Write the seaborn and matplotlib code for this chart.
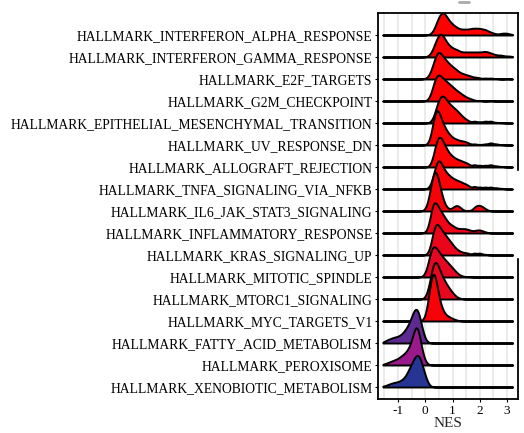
import numpy as np
import matplotlib
matplotlib.use("Agg")
import matplotlib.pyplot as plt
import seaborn as sns
from matplotlib.colors import LinearSegmentedColormap, Normalize
from matplotlib.patches import Rectangle
from matplotlib.lines import Line2D

# gene sets, top to bottom
pathways = [
    "HALLMARK_INTERFERON_ALPHA_RESPONSE",
    "HALLMARK_INTERFERON_GAMMA_RESPONSE",
    "HALLMARK_E2F_TARGETS",
    "HALLMARK_G2M_CHECKPOINT",
    "HALLMARK_EPITHELIAL_MESENCHYMAL_TRANSITION",
    "HALLMARK_UV_RESPONSE_DN",
    "HALLMARK_ALLOGRAFT_REJECTION",
    "HALLMARK_TNFA_SIGNALING_VIA_NFKB",
    "HALLMARK_IL6_JAK_STAT3_SIGNALING",
    "HALLMARK_INFLAMMATORY_RESPONSE",
    "HALLMARK_KRAS_SIGNALING_UP",
    "HALLMARK_MITOTIC_SPINDLE",
    "HALLMARK_MTORC1_SIGNALING",
    "HALLMARK_MYC_TARGETS_V1",
    "HALLMARK_FATTY_ACID_METABOLISM",
    "HALLMARK_PEROXISOME",
    "HALLMARK_XENOBIOTIC_METABOLISM",
]

# adjusted p-values (fill colour), estimated
padj = [0.0001, 0.0002, 0.0002, 0.0003, 0.0004, 0.0006, 0.0006, 0.0008,
        0.0015, 0.003, 0.004, 0.005, 0.0045, 0.0012, 0.03, 0.02, 0.04]

# core gene values (NES axis) and how many genes sit at each value
x_alpha = [0.1, 0.2, 0.3, 0.4, 0.5, 0.6, 0.7, 0.8, 0.9, 1.0, 1.1, 1.2, 1.3, 1.4, 1.5, 1.6,
           1.7, 1.8, 1.9, 2.0, 2.1, 2.2, 2.3, 2.4, 2.5, 2.6, 2.7, 2.8, 2.9, 3.0, 3.1, 3.2]
n_alpha = [0.3, 1, 4, 12, 19, 24, 23, 18, 14, 11, 9, 7, 6, 6, 6, 6,
           7, 7, 7, 7, 6, 6, 4, 3, 2, 1, 1, 2, 2, 2, 1, 0.5]

x_gamma = [0.1, 0.2, 0.3, 0.4, 0.5, 0.6, 0.7, 0.8, 0.9, 1.0, 1.1, 1.2, 1.3, 1.4, 1.5, 1.6,
           1.7, 1.8, 1.9, 2.0, 2.1, 2.2, 2.3, 2.4, 2.5, 2.6, 2.7, 2.8, 2.9, 3.0, 3.1, 3.2]
n_gamma = [1, 3, 9, 17, 23, 24, 19, 14, 11, 9, 8, 7, 5, 5, 5, 5,
           5, 5, 5, 5, 5, 6, 5, 4, 3, 2, 2, 2, 1, 1, 1, 0.5]

x_e2f = [0.0, 0.1, 0.2, 0.3, 0.4, 0.5, 0.6, 0.7, 0.8, 0.9, 1.0, 1.1, 1.2, 1.3, 1.4, 1.5,
         1.6, 1.7, 1.8, 1.9, 2.0, 2.2, 2.4, 2.6, 3.0]
n_e2f = [0.5, 2, 8, 18, 29, 33, 28, 24, 20, 17, 14, 12, 9, 7, 6, 5,
         4, 3, 2, 2, 1.5, 2, 2, 1, 0.5]

x_g2m = [0.1, 0.2, 0.3, 0.4, 0.5, 0.6, 0.7, 0.8, 0.9, 1.0, 1.1, 1.2, 1.3, 1.4, 1.5, 1.6,
         1.7, 1.8, 2.0, 2.4]
n_g2m = [1, 6, 17, 27, 28, 25, 22, 20, 17, 15, 12, 10, 8, 6, 4, 3,
         2, 1, 1, 0.6]

x_emt = [0.2, 0.3, 0.4, 0.5, 0.6, 0.7, 0.8, 0.9, 1.0, 1.1, 1.2, 1.3, 1.4, 1.5, 1.6,
         1.8, 2.0, 2.2, 2.4, 2.6, 2.8]
n_emt = [1, 4, 13, 21, 24, 23, 19, 16, 14, 12, 10, 7, 5, 3, 2,
         3, 2, 3, 3, 1, 0.6]

x_uv = [0.1, 0.2, 0.3, 0.4, 0.5, 0.6, 0.7, 0.8, 0.9, 1.0, 1.1, 1.2, 1.3, 1.4, 1.5, 1.6,
        1.8, 2.0, 2.2, 2.4, 2.6, 2.8]
n_uv = [1, 7, 24, 37, 33, 24, 18, 13, 10, 7, 6, 5, 4, 4, 3, 2,
        2, 1, 2, 4, 2, 0.6]

x_allo = [0.2, 0.3, 0.4, 0.5, 0.6, 0.7, 0.8, 0.9, 1.0, 1.1, 1.2, 1.3, 1.4, 1.5, 1.6,
          1.8, 2.0, 2.2, 2.4, 2.6, 2.8]
n_allo = [2, 10, 24, 30, 27, 21, 16, 12, 10, 8, 7, 6, 5, 4, 3,
          4, 3, 3, 4, 2, 1]

x_tnfa = [0.1, 0.2, 0.3, 0.4, 0.5, 0.6, 0.7, 0.8, 0.9, 1.0, 1.1, 1.2, 1.3, 1.4, 1.5, 1.6,
          1.8, 2.0, 2.2, 2.4, 2.6, 2.8]
n_tnfa = [0.5, 3, 11, 22, 26, 21, 16, 13, 11, 9, 8, 7, 6, 5, 4, 3,
          4, 3, 3, 3, 2, 1]

x_il6 = [0.0, 0.1, 0.2, 0.3, 0.4, 0.5, 0.6, 0.7, 0.8, 0.9, 1.0, 1.1, 1.2, 1.3, 1.4,
         1.6, 1.8, 1.9, 2.0, 2.1, 2.2, 2.3]
n_il6 = [1, 5, 16, 27, 28, 20, 11, 5, 2, 1, 2, 4, 4, 2, 0.5,
         0.5, 3, 4, 4, 3, 1.5, 0.5]

x_infl = [0.0, 0.1, 0.2, 0.3, 0.4, 0.5, 0.6, 0.7, 0.8, 0.9, 1.0, 1.1, 1.2, 1.3, 1.4, 1.5,
          1.6, 1.7, 1.8, 1.9, 2.0, 2.1, 2.2, 2.3]
n_infl = [0.5, 3, 17, 31, 28, 23, 19, 15, 11, 8, 7, 5, 4, 4, 4, 4,
          3, 2, 2, 3, 3, 2, 1, 0.3]

x_kras = [0.1, 0.2, 0.3, 0.4, 0.5, 0.6, 0.7, 0.8, 0.9, 1.0, 1.1, 1.2, 1.3, 1.4, 1.5, 1.6,
          1.8, 2.0, 2.2]
n_kras = [1, 7, 22, 28, 25, 21, 18, 15, 12, 9, 6, 4, 3, 2, 2, 1.5,
          3, 3, 1]

x_mito = [-0.1, 0.0, 0.1, 0.2, 0.3, 0.4, 0.5, 0.6, 0.7, 0.8, 0.9, 1.0, 1.1, 1.2, 1.3, 1.4, 1.6]
n_mito = [0.5, 3, 12, 27, 32, 29, 25, 21, 18, 15, 12, 9, 6, 3, 1.5, 0.8, 0.6]

x_mtorc1 = [0.0, 0.1, 0.2, 0.3, 0.4, 0.5, 0.6, 0.7, 0.8, 0.9, 1.0, 1.1, 1.2, 1.3]
n_mtorc1 = [1, 6, 18, 30, 31, 25, 19, 15, 11, 8, 5, 2.5, 1, 0.4]

x_myc = [-0.1, 0.0, 0.1, 0.2, 0.3, 0.4, 0.5, 0.6, 0.7, 0.8, 0.9, 1.0, 1.1, 1.2]
n_myc = [0.5, 2, 14, 32, 42, 32, 18, 10, 6, 4, 3, 2, 1, 0.5]

x_fatty = [-1.5, -1.4, -1.3, -1.2, -1.1, -1.0, -0.9, -0.8, -0.7, -0.6, -0.5, -0.4, -0.3,
           -0.2, -0.1, 0.0, 0.1]
n_fatty = [1.5, 3, 4, 5, 6, 6, 8, 10, 14, 18, 25, 33, 35, 26, 12, 3, 0.5]

x_perox = [-1.5, -1.4, -1.3, -1.2, -1.1, -1.0, -0.9, -0.8, -0.7, -0.6, -0.5, -0.4, -0.3,
           -0.2, -0.1, 0.0, 0.1]
n_perox = [1, 2, 3, 4, 5, 6, 8, 10, 12, 16, 22, 34, 40, 27, 11, 3, 0.5]

x_xeno = [-1.6, -1.5, -1.4, -1.3, -1.2, -1.1, -1.0, -0.9, -0.8, -0.7, -0.6, -0.5, -0.4,
          -0.3, -0.2, -0.1, 0.0, 0.1, 0.2]
n_xeno = [0.5, 1, 2, 3, 4, 4.5, 5, 6, 8, 11, 17, 22, 28, 32, 30, 20, 11, 3, 0.5]

xticks = [-1, 0, 1, 2, 3]
xtick_labels = ["-1", "0", "1", "2", "3"]

gene_x = [x_alpha, x_gamma, x_e2f, x_g2m, x_emt, x_uv, x_allo, x_tnfa, x_il6,
          x_infl, x_kras, x_mito, x_mtorc1, x_myc, x_fatty, x_perox, x_xeno]
gene_n = [n_alpha, n_gamma, n_e2f, n_g2m, n_emt, n_uv, n_allo, n_tnfa, n_il6,
          n_infl, n_kras, n_mito, n_mtorc1, n_myc, n_fatty, n_perox, n_xeno]

sns.set_style("ticks")
plt.rcParams["font.family"] = ["Liberation Serif", "DejaVu Serif"]

cmap = LinearSegmentedColormap.from_list(
    "padj", [(0, "#FF0000"), (0.5, "#9A1A8C"), (0.75, "#5E2A92"), (1, "#263593")])
norm = Normalize(0, 0.04)

fig = plt.figure(figsize=(5.24, 4.33), dpi=100)
rect = [378 / 524, 1 - 399 / 433, 140 / 524, 386 / 433]
ax = fig.add_axes(rect)

n = len(pathways)
ypos = np.arange(n)[::-1]
row_lo, row_hi = -12 / 22, (n - 1) + 22 / 22
xlim = (-1.73, 3.40)
ax.set_xlim(xlim)
ax.set_ylim(row_lo, row_hi)
ax.set_yticks(ypos, pathways)
ax.set_xticks(xticks, xtick_labels)
ax.set_xticks([-1.5, -0.5, 0.5, 1.5, 2.5], minor=True)
ax.grid(axis="x", which="both", color="#E6E6E2", linewidth=1.1)
ax.tick_params(which="minor", length=0)
ax.tick_params(which="major", length=2.5, width=0.8, color="black",
               pad=1.5, labelcolor="black")
ax.tick_params(axis="y", labelsize=9.8)
ax.tick_params(axis="x", labelsize=9.5)
for s in ax.spines.values():
    s.set_visible(False)
ax.set_xlabel("NES", fontsize=11, labelpad=0)

# ridges: lower rows drawn on top of upper ones
bw = 0.08
rows_per_density = 22 / 22
for j in range(n):
    xs = np.asarray(gene_x[j], float)
    ws = np.asarray(gene_n[j], float)
    mu = np.average(xs, weights=ws)
    sd = np.sqrt(np.average((xs - mu) ** 2, weights=ws))
    ov = fig.add_axes(rect)
    ov.set_facecolor("none")
    sns.kdeplot(x=xs, weights=ws, bw_method=bw / sd, cut=100, clip=(-1.55, 3.2),
                gridsize=500, fill=True, alpha=1, color=cmap(norm(padj[j])),
                edgecolor="black", linewidth=1.4, ax=ov)
    ov.set_xlim(xlim)
    ov.set_ylim((row_lo - ypos[j]) / rows_per_density,
                (row_hi - ypos[j]) / rows_per_density)
    ov.set_axis_off()

# panel border on top
frame = fig.add_axes(rect)
frame.set_facecolor("none")
frame.set_xticks([])
frame.set_yticks([])
for s in frame.spines.values():
    s.set_visible(True)
    s.set_color("black")
    s.set_linewidth(1.3)

# legend box edge (cut off in the original) hides part of the right border
fig.patches.append(Rectangle((516 / 524, 1 - 257 / 433), 8 / 524, 86 / 433,
                             transform=fig.transFigure, color="white", zorder=10))
# bottom of a clipped title glyph at the top edge
fig.lines.append(Line2D([459 / 524, 469 / 524], [1 - 1.5 / 433, 1 - 1.5 / 433],
                        transform=fig.transFigure, color="#AAAAAA", linewidth=2))

fig.savefig("out.png", dpi=100)
